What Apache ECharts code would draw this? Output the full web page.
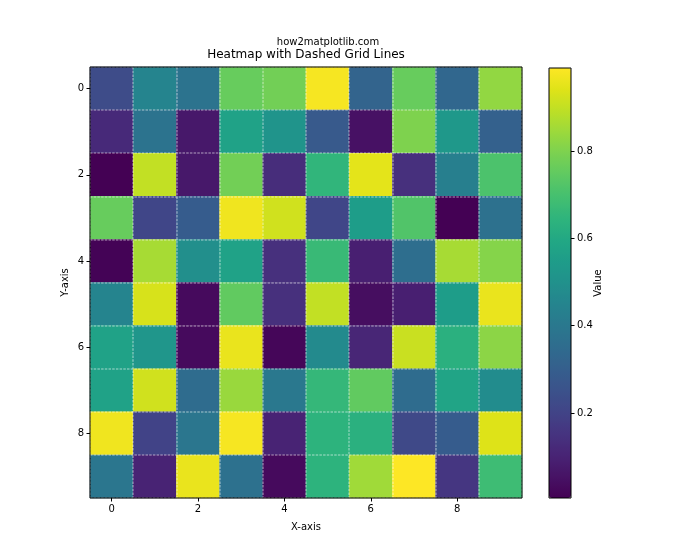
<!DOCTYPE html>
<html>
<head>
<meta charset="utf-8">
<script src="https://cdn.jsdelivr.net/npm/echarts@6/dist/echarts.min.js"></script>
<style>html,body{margin:0;padding:0;background:#fff;}#c{width:700px;height:560px;}</style>
</head>
<body>
<div id="c"></div>
<script>
const xCategories = ['0','1','2','3','4','5','6','7','8','9'];
const yCategories = ['0','1','2','3','4','5','6','7','8','9'];
const row0 = [0.23, 0.45, 0.38, 0.76, 0.78, 0.98, 0.32, 0.76, 0.33, 0.83];
const row1 = [0.12, 0.38, 0.07, 0.57, 0.51, 0.28, 0.05, 0.80, 0.53, 0.31];
const row2 = [0.005, 0.90, 0.07, 0.78, 0.13, 0.65, 0.95, 0.14, 0.43, 0.71];
const row3 = [0.76, 0.21, 0.29, 0.97, 0.92, 0.21, 0.55, 0.72, 0.006, 0.37];
const row4 = [0.01, 0.86, 0.49, 0.57, 0.14, 0.67, 0.09, 0.36, 0.86, 0.81];
const row5 = [0.45, 0.93, 0.03, 0.75, 0.14, 0.90, 0.04, 0.09, 0.55, 0.96];
const row6 = [0.57, 0.52, 0.03, 0.96, 0.02, 0.47, 0.11, 0.91, 0.63, 0.82];
const row7 = [0.57, 0.92, 0.35, 0.84, 0.40, 0.66, 0.75, 0.35, 0.58, 0.48];
const row8 = [0.97, 0.20, 0.39, 0.98, 0.10, 0.64, 0.63, 0.22, 0.29, 0.94];
const row9 = [0.39, 0.10, 0.96, 0.37, 0.03, 0.64, 0.85, 0.991, 0.16, 0.68];
const rows = [row0, row1, row2, row3, row4, row5, row6, row7, row8, row9];
const colorbarTicks = [0.2, 0.4, 0.6, 0.8];
const xTickLabels = ['0','2','4','6','8'];
const viridis = ['#440154','#471365','#482475','#463480','#414487','#3b528b','#355f8d','#2f6c8e','#2a788e','#25848e','#21918c','#1e9c89','#22a884','#2fb47c','#44bf70','#5ec962','#7ad151','#9bd93c','#bddf26','#dfe318','#fde725'];

const data = [];
rows.forEach((r, yi) => r.forEach((v, xi) => data.push([xi, yi, v])));
const all = rows.flat();
const vMin = Math.min(...all);
const vMax = Math.max(...all);

const FONT = 'DejaVu Sans';
const gridLine = {show: true, interval: 0, lineStyle: {color: 'rgba(255,255,255,0.4)', width: 1.5, type: [2.5, 1.2]}};

const chart = echarts.init(document.getElementById('c'));
chart.setOption({
  animation: false,
  backgroundColor: '#fff',
  title: [
    {text: 'Heatmap with Dashed Grid Lines', left: 306, top: 49, textAlign: 'center', padding: 0,
     textStyle: {fontFamily: FONT, fontSize: 12, fontWeight: 'normal', color: '#000'}},
    {text: 'how2matplotlib.com', left: 328, top: 37, textAlign: 'center', padding: 0,
     textStyle: {fontFamily: FONT, fontSize: 10, fontWeight: 'normal', color: '#000'}}
  ],
  grid: [
    {left: 90, top: 67, width: 432, height: 431, show: true, backgroundColor: 'transparent', borderColor: '#000', borderWidth: 1, z: 10},
    {left: 549, top: 68, width: 22, height: 430, show: true, backgroundColor: 'transparent', borderColor: '#000', borderWidth: 1, z: 10}
  ],
  xAxis: [
    {type: 'category', gridIndex: 0, data: xCategories, z: 5,
     axisLine: {show: false},
     axisTick: {show: true, alignWithLabel: true, interval: 1, length: 3.5, lineStyle: {color: '#000'}},
     axisLabel: {interval: 1, margin: 6, fontFamily: FONT, fontSize: 10, color: '#000',
       formatter: v => xTickLabels.includes(v) ? v : ''},
     splitLine: gridLine,
     name: 'X-axis', nameLocation: 'middle', nameGap: 24, nameMoveOverlap: false,
     nameTextStyle: {fontFamily: FONT, fontSize: 10, color: '#000'}},
    {type: 'category', gridIndex: 1, data: ['c'], show: false}
  ],
  yAxis: [
    {type: 'category', gridIndex: 0, data: yCategories, inverse: true, z: 5,
     axisLine: {show: false},
     axisTick: {show: true, alignWithLabel: true, interval: 1, length: 3.5, lineStyle: {color: '#000'}},
     axisLabel: {interval: 1, margin: 6, fontFamily: FONT, fontSize: 10, color: '#000'},
     splitLine: gridLine,
     name: 'Y-axis', nameLocation: 'middle', nameGap: 20, nameRotate: 90, nameMoveOverlap: false,
     nameTextStyle: {fontFamily: FONT, fontSize: 10, color: '#000'}},
    {type: 'value', gridIndex: 1, min: vMin, max: vMax, position: 'right',
     axisLine: {show: false},
     axisTick: {show: true, length: 3.5, customValues: colorbarTicks, lineStyle: {color: '#000'}},
     axisLabel: {customValues: colorbarTicks, margin: 6, fontFamily: FONT, fontSize: 10, color: '#000',
       formatter: v => v.toFixed(1)},
     splitLine: {show: false},
     name: 'Value', nameLocation: 'middle', nameGap: 22, nameRotate: 90, nameMoveOverlap: false,
     nameTextStyle: {fontFamily: FONT, fontSize: 10, color: '#000'}}
  ],
  visualMap: {
    type: 'continuous', seriesIndex: 0, min: vMin, max: vMax,
    left: 549, top: 68, itemWidth: 22, itemHeight: 430, padding: 0,
    text: null, calculable: false, hoverLink: false, showLabel: false,
    inRange: {color: viridis}
  },
  series: [
    {type: 'heatmap', xAxisIndex: 0, yAxisIndex: 0, data: data, z: 2}
  ]
});
</script>
</body>
</html>
